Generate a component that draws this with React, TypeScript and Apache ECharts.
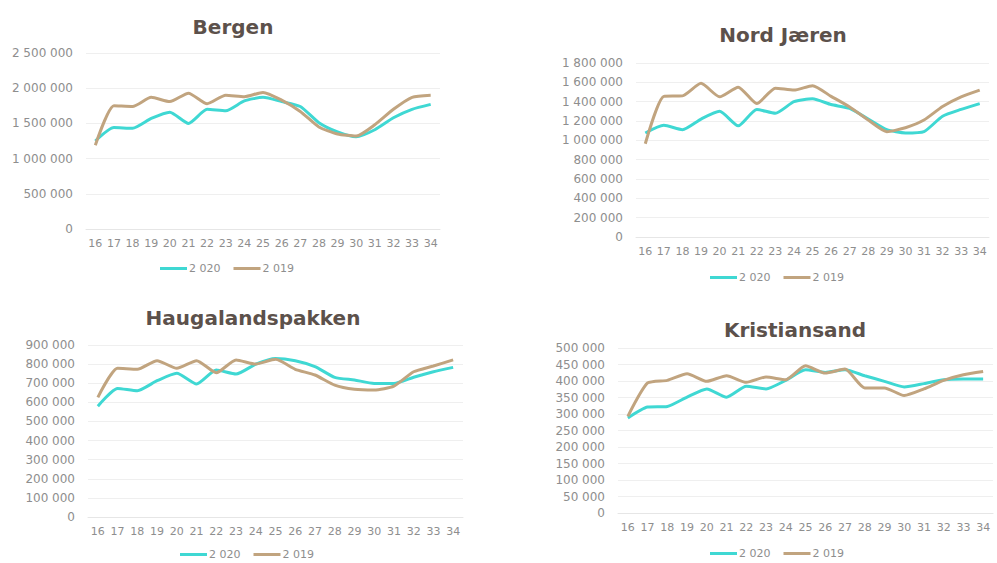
import React, { useEffect, useRef } from "react";
import * as echarts from "echarts";

const weeks = ["16","17","18","19","20","21","22","23","24","25","26","27","28","29","30","31","32","33","34"];

const titles = ["Bergen", "Nord Jæren", "Haugalandspakken", "Kristiansand"];
const seriesNames = ["2 020", "2 019"];

const bergen2020 = [1250000,1440000,1430000,1570000,1660000,1500000,1700000,1680000,1820000,1870000,1810000,1740000,1510000,1380000,1310000,1410000,1580000,1700000,1770000];
const bergen2019 = [1190000,1750000,1740000,1870000,1810000,1930000,1780000,1900000,1880000,1940000,1830000,1670000,1450000,1350000,1320000,1480000,1700000,1870000,1900000];

const nord2020 = [1076000,1155000,1110000,1220000,1300000,1150000,1320000,1280000,1400000,1430000,1370000,1330000,1220000,1110000,1076000,1090000,1250000,1320000,1380000];
const nord2019 = [965000,1455000,1460000,1590000,1450000,1550000,1380000,1540000,1520000,1565000,1455000,1345000,1210000,1090000,1130000,1210000,1350000,1450000,1520000];

const haug2020 = [580000,673000,661000,713000,752000,696000,769000,748000,800000,830000,818000,787000,731000,717000,699000,699000,731000,760000,783000];
const haug2019 = [626000,778000,773000,818000,778000,818000,755000,822000,800000,825000,773000,743000,690000,668000,664000,685000,760000,790000,822000];

const krist2020 = [288000,321000,323000,351000,376000,351000,384000,376000,402000,434000,426000,434000,416000,399000,382000,392000,404000,406000,406000];
const krist2019 = [293000,394000,402000,422000,399000,416000,396000,412000,404000,446000,424000,436000,379000,379000,356000,376000,402000,419000,429000];

const yMax = [2500000, 1800000, 900000, 500000];
const yStep = [500000, 200000, 100000, 50000];

const data2020 = [bergen2020, nord2020, haug2020, krist2020];
const data2019 = [bergen2019, nord2019, haug2019, krist2019];

const CYAN = "#3fd8d3";
const TAN = "#c1a47f";
const LABEL = "#8e8e8e";
const TITLE = "#5c514b";
const FONT = "DejaVu Sans";

const fmt = (v: number) => String(v).replace(/\B(?=(\d{3})+(?!\d))/g, " ");

const grids = [
  { left: 86, right: 557, top: 53, height: 176 },
  { left: 636, right: 8, top: 63, height: 174 },
  { left: 88, right: 534, top: 345, height: 172 },
  { left: 618, right: 4, top: 348, height: 165 },
];
const titlePos = [
  { x: 228, y: 25 },
  { x: 778, y: 33 },
  { x: 248, y: 316 },
  { x: 790, y: 328 },
];
const legendPos = [
  { x: 160, y: 270 },
  { x: 710, y: 279 },
  { x: 180, y: 556 },
  { x: 710, y: 555 },
];

export default function App() {
  const ref = useRef<HTMLDivElement>(null);
  useEffect(() => {
    if (!ref.current) return;
    const chart = echarts.init(ref.current, undefined, { renderer: "svg" });
    const series: any[] = [];
    for (let i = 0; i < 4; i++) {
      series.push({
        name: seriesNames[0], type: "line", xAxisIndex: i, yAxisIndex: i,
        data: data2020[i], showSymbol: false, smooth: 0.2,
        lineStyle: { color: CYAN, width: 3 }, itemStyle: { color: CYAN },
      });
      series.push({
        name: seriesNames[1], type: "line", xAxisIndex: i, yAxisIndex: i,
        data: data2019[i], showSymbol: false, smooth: 0.2,
        lineStyle: { color: TAN, width: 3 }, itemStyle: { color: TAN },
      });
    }
    const option: any = {
      animation: false,
      backgroundColor: "#ffffff",
      title: titles.map((t, i) => ({
        text: t,
        left: titlePos[i].x,
        top: titlePos[i].y - 13,
        textAlign: "center",
        textStyle: { fontFamily: FONT, fontSize: 20, fontWeight: "bold", color: TITLE },
      })),
      legend: legendPos.map((p, i) => ({
        data: seriesNames,
        left: p.x,
        top: p.y - 7,
        padding: 0,
        icon: "rect",
        itemWidth: 27,
        itemHeight: 3,
        itemGap: 13,
        textStyle: { fontFamily: FONT, fontSize: 11, color: LABEL, padding: [0, 0, 0, -3] },
      })),
      grid: grids,
      xAxis: grids.map((_, i) => ({
        type: "category", gridIndex: i, data: weeks, boundaryGap: true,
        axisTick: { show: false },
        axisLine: { show: true, lineStyle: { color: "#e6e6e6" } },
        axisLabel: { interval: 0, color: LABEL, fontFamily: FONT, fontSize: 11, margin: 9 },
      })),
      yAxis: grids.map((_, i) => ({
        type: "value", gridIndex: i, min: 0, max: yMax[i], interval: yStep[i],
        axisLine: { show: false }, axisTick: { show: false },
        splitLine: { lineStyle: { color: "#efefef" } },
        axisLabel: { color: LABEL, fontFamily: FONT, fontSize: 12, margin: 13, formatter: (v: number) => fmt(v) },
      })),
      series,
    };
    chart.setOption(option);
    return () => chart.dispose();
  }, []);
  return <div ref={ref} style={{ position: "fixed", left: 0, top: 0, width: 997, height: 563 }} />;
}
